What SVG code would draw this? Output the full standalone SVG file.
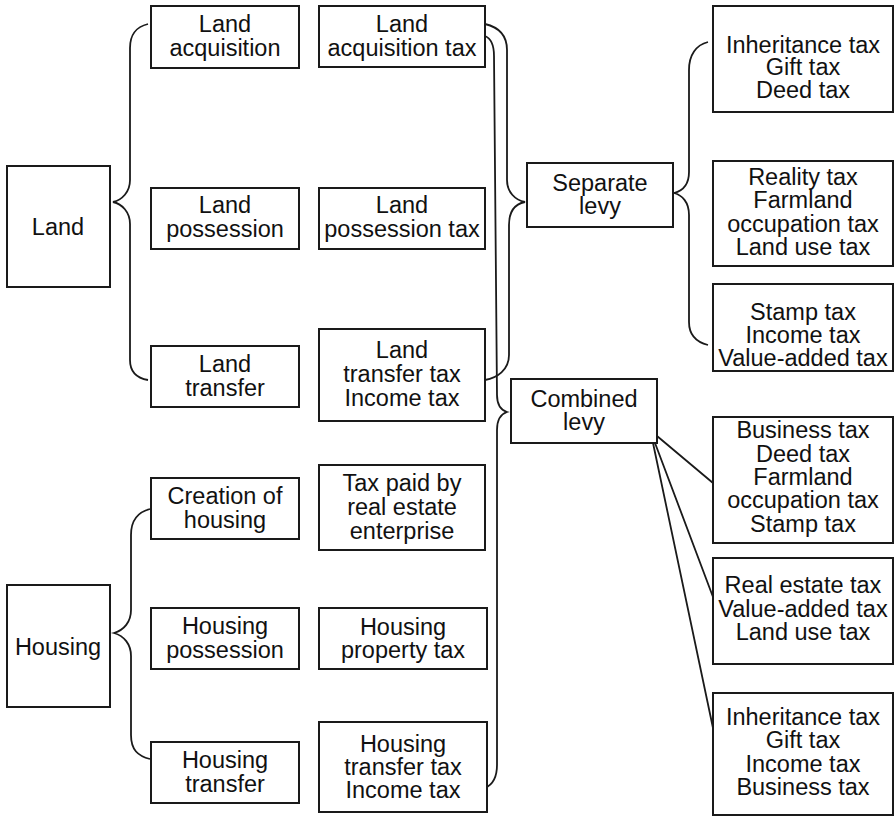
<svg xmlns="http://www.w3.org/2000/svg" width="894" height="818" viewBox="0 0 894 818">
<style>
rect{fill:#fff;stroke:#1a1a1a;stroke-width:2}
text{font-family:"Liberation Sans",Arial,sans-serif;font-size:23.5px;fill:#111;text-anchor:middle}
.c{fill:none;stroke:#1a1a1a;stroke-width:1.8}
</style>
<rect width="894" height="818" style="fill:#fff;stroke:none"/>
<g id="connectors">
<path class="c" d="M148,24 C136,27 130,34 130,48 L130,180 C130,192 122,200 113,202 C122,204 130,212 130,224 L130,360 C130,372 136,378 148,380"/>
<path class="c" d="M150,509 C138,512 131,520 131,535 L131,610 C131,622 124,630 114,633 C124,636 131,644 131,656 L131,735 C131,750 138,756 150,759"/>
<path class="c" d="M485,24 C498,27 507,35 507,50 L507,180 C507,192 515,200 525,202 C515,204 509,212 509,225 L509,355 C509,370 497,378 485,380"/>
<path class="c" d="M485,36 C490,38 494,44 494,56 L497,395 C497,405 501,410 507,412 C501,414 497,420 497,430 L497,765 C497,778 492,785 485,788"/>
<path class="c" d="M708,42 C696,45 689,55 689,70 L689,172 C689,185 682,191 674,193 C682,195 689,202 689,215 L689,322 C689,335 696,342 708,345"/>
<path class="c" d="M657,436 L713,483 M655,443 L713,597 M653,443 L713,728"/>
</g>
<g id="land"><rect x="7" y="166" width="103" height="121"/><text x="58" y="235">Land</text></g>
<g id="land-acquisition"><rect x="151" y="6" width="148" height="62"/><text x="225" y="32">Land</text><text x="225" y="56">acquisition</text></g>
<g id="land-possession"><rect x="151" y="188" width="148" height="61"/><text x="225" y="213">Land</text><text x="225" y="237">possession</text></g>
<g id="land-transfer"><rect x="151" y="346" width="148" height="61"/><text x="225" y="372">Land</text><text x="225" y="396">transfer</text></g>
<g id="housing"><rect x="7" y="585" width="103" height="122"/><text x="58" y="655">Housing</text></g>
<g id="creation-of-housing"><rect x="151" y="478" width="148" height="61"/><text x="225" y="504">Creation of</text><text x="225" y="528">housing</text></g>
<g id="housing-possession"><rect x="151" y="608" width="148" height="61"/><text x="225" y="634">Housing</text><text x="225" y="658">possession</text></g>
<g id="housing-transfer"><rect x="151" y="742" width="148" height="61"/><text x="225" y="768">Housing</text><text x="225" y="792">transfer</text></g>
<g id="land-acquisition-tax"><rect x="319" y="6" width="166" height="61"/><text x="402" y="32">Land</text><text x="402" y="56">acquisition tax</text></g>
<g id="land-possession-tax"><rect x="319" y="188" width="166" height="61"/><text x="402" y="213">Land</text><text x="402" y="237">possession tax</text></g>
<g id="land-transfer-tax"><rect x="319" y="329" width="166" height="92"/><text x="402" y="358">Land</text><text x="402" y="382">transfer tax</text><text x="402" y="406">Income tax</text></g>
<g id="tax-paid-by-real-estate-enterprise"><rect x="319" y="465" width="166" height="85"/><text x="402" y="491">Tax paid by</text><text x="402" y="515">real estate</text><text x="402" y="539">enterprise</text></g>
<g id="housing-property-tax"><rect x="319" y="608" width="168" height="61"/><text x="403" y="635">Housing</text><text x="403" y="658">property tax</text></g>
<g id="housing-transfer-tax"><rect x="319" y="722" width="168" height="90"/><text x="403" y="752">Housing</text><text x="403" y="775">transfer tax</text><text x="403" y="798">Income tax</text></g>
<g id="separate-levy"><rect x="527" y="163" width="146" height="64"/><text x="600" y="191">Separate</text><text x="600" y="214">levy</text></g>
<g id="combined-levy"><rect x="511" y="379" width="146" height="64"/><text x="584" y="407">Combined</text><text x="584" y="430">levy</text></g>
<g id="sep-1"><rect x="713" y="6" width="180" height="106"/><text x="803" y="53">Inheritance tax</text><text x="803" y="75">Gift tax</text><text x="803" y="98">Deed tax</text></g>
<g id="sep-2"><rect x="713" y="161" width="180" height="105"/><text x="803" y="185">Reality tax</text><text x="803" y="208">Farmland</text><text x="803" y="232">occupation tax</text><text x="803" y="255">Land use tax</text></g>
<g id="sep-3"><rect x="713" y="284" width="180" height="87"/><text x="803" y="320">Stamp tax</text><text x="803" y="343">Income tax</text><text x="803" y="366">Value-added tax</text></g>
<g id="comb-1"><rect x="713" y="417" width="180" height="126"/><text x="803" y="438">Business tax</text><text x="803" y="462">Deed tax</text><text x="803" y="485">Farmland</text><text x="803" y="508">occupation tax</text><text x="803" y="532">Stamp tax</text></g>
<g id="comb-2"><rect x="713" y="558" width="180" height="106"/><text x="803" y="593">Real estate tax</text><text x="803" y="617">Value-added tax</text><text x="803" y="640">Land use tax</text></g>
<g id="comb-3"><rect x="713" y="693" width="180" height="122"/><text x="803" y="725">Inheritance tax</text><text x="803" y="748">Gift tax</text><text x="803" y="772">Income tax</text><text x="803" y="795">Business tax</text></g>
</svg>
